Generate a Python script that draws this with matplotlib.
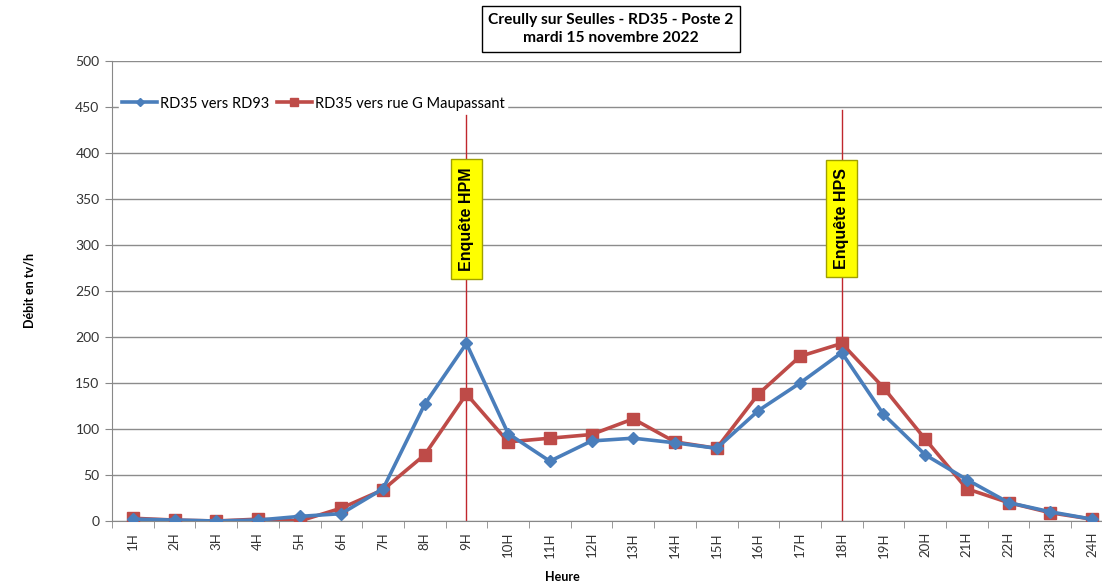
# Creully sur Seulles - RD35 - Poste 2 : hourly traffic, two directions
import matplotlib.pyplot as plt
from matplotlib.ticker import MultipleLocator, FixedLocator

plt.rcParams['font.family'] = ['Lato', 'DejaVu Sans']

hours = [f'{h}H' for h in range(1, 25)]
vers_rd93 = [2, 1, 0, 1, 5, 8, 35, 127, 193, 95, 65, 87, 90, 85, 79, 120,
             150, 183, 116, 72, 45, 20, 10, 2]
vers_maupassant = [3, 1, 0, 2, 0, 14, 34, 72, 138, 86, 90, 94, 111, 86, 79, 138,
                   179, 193, 145, 89, 35, 20, 9, 2]
survey_hours = ['9H', '18H']
survey_labels = ['Enquête HPM', 'Enquête HPS']

blue = '#4a7ebb'
red = '#be4b48'

fig = plt.figure(figsize=(11.02, 5.85), dpi=100)
W, H = 1102, 585
left_px, step_px = 112, 41.7
ax = fig.add_axes([left_px / W, (H - 521) / H, 1 - left_px / W, 460 / H])

x = list(range(1, len(hours) + 1))
ax.plot(x, vers_rd93, color=blue, lw=2.6, marker='D', ms=6.5,
        label='RD35 vers RD93', zorder=4)
ax.plot(x, vers_maupassant, color=red, lw=2.6, marker='s', ms=9,
        label='RD35 vers rue G Maupassant', zorder=3)

# survey markers
line_tops = [441, 447]
label_ys = [328, 329]
for h, lab, top, ly in zip(survey_hours, survey_labels, line_tops, label_ys):
    xi = hours.index(h) + 1
    ax.plot([xi, xi], [0, top], color='#c0272d', lw=1, zorder=2)
    ax.text(xi, ly, lab, rotation=90, ha='center', va='center',
            fontsize=11.5, fontweight='bold', family='Liberation Sans',
            color='black', zorder=6,
            bbox=dict(boxstyle='square,pad=0.5', facecolor='#ffff00',
                      edgecolor='#a0a000', linewidth=1))

ax.set_ylim(0, 500)
ax.set_xlim(0.5, 0.5 + (W - left_px) / step_px)
ax.yaxis.set_major_locator(MultipleLocator(50))
ax.set_xticks(x)
ax.set_xticklabels(hours, rotation=90, fontsize=9.5, color='#333333')
ax.xaxis.set_minor_locator(FixedLocator([i + 0.5 for i in range(0, 25)]))
ax.tick_params(axis='x', which='major', length=0, pad=8)
ax.tick_params(axis='x', which='minor', length=5, color='#888888')
ax.tick_params(axis='y', length=5, color='#888888', labelsize=10,
               labelcolor='#333333', pad=4)
ax.grid(axis='y', color='#8c8c8c', lw=1)
ax.set_axisbelow(True)
for s in ['top', 'right']:
    ax.spines[s].set_visible(False)
ax.spines['left'].set_color('#888888')
ax.spines['bottom'].set_color('#888888')

leg = ax.legend(loc='upper left', bbox_to_anchor=(0.0, 0.945), ncol=2,
                frameon=True, fontsize=10.5, handlelength=2.4, handletextpad=0.2,
                columnspacing=0.5, borderpad=0.2, markerscale=0.7)
leg.get_frame().set_facecolor('white')
leg.get_frame().set_edgecolor('white')
leg.get_frame().set_alpha(1)
leg.set_zorder(5)

fig.text(611 / W, 1 - 29 / H, 'Creully sur Seulles - RD35 - Poste 2\nmardi 15 novembre 2022',
         ha='center', va='center', fontsize=11.2, fontweight='bold',
         linespacing=1.45,
         bbox=dict(boxstyle='square,pad=0.4', facecolor='white', edgecolor='black', lw=1))
fig.text(30 / W, 1 - 290 / H, 'Débit en tv/h', rotation=90, ha='center', va='center',
         fontsize=9, fontweight='bold')
fig.text(562 / W, 1 - 577 / H, 'Heure', ha='center', va='center',
         fontsize=9, fontweight='bold')

fig.savefig('out.png', dpi=100, facecolor='white')
plt.close(fig)
